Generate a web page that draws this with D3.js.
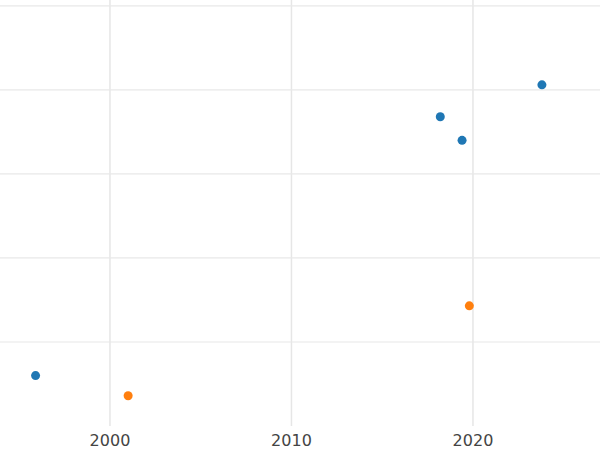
<!DOCTYPE html>
<html><head><meta charset="utf-8">
<script src="https://cdn.jsdelivr.net/npm/d3@7"></script>
<style>body{margin:0;background:#fff}svg{font-family:"DejaVu Sans",sans-serif}</style>
</head><body><svg width="600" height="450"></svg>
<script>
const blueX = [1995.9, 2018.2, 2019.4, 2023.8];
const blueY = [0.6, 3.68, 3.4, 4.06];
const orangeX = [2001.0, 2019.8];
const orangeY = [0.36, 1.43];
const xTicks = [2000, 2010, 2020];
const yTicks = [1, 2, 3, 4, 5];

const svg = d3.select('svg');
const x = d3.scaleLinear().domain([1993.94, 2027.0]).range([0, 600]);
const y = d3.scaleLinear().domain([0, 5.07]).range([426, 0]);

// grid
svg.selectAll('.vg').data(xTicks).join('line')
  .attr('x1', d => x(d)).attr('x2', d => x(d)).attr('y1', 0).attr('y2', 426)
  .attr('stroke', '#e6e6e6').attr('stroke-width', 1.5);
svg.selectAll('.hg').data(yTicks).join('line')
  .attr('x1', 0).attr('x2', 600).attr('y1', d => y(d)).attr('y2', d => y(d))
  .attr('stroke', '#e8e8e8').attr('stroke-width', 1.2);

svg.selectAll('.xl').data(xTicks).join('text')
  .attr('x', d => x(d)).attr('y', 446).attr('text-anchor', 'middle')
  .attr('font-size', 16).attr('fill', '#444').text(d => d);

function dots(xs, ys, color) {
  svg.append('g').selectAll('circle').data(xs).join('circle')
    .attr('cx', d => x(d)).attr('cy', (d, i) => y(ys[i])).attr('r', 4.5)
    .attr('fill', color);
}
dots(blueX, blueY, '#1f77b4');
dots(orangeX, orangeY, '#ff7f0e');
</script></body></html>
